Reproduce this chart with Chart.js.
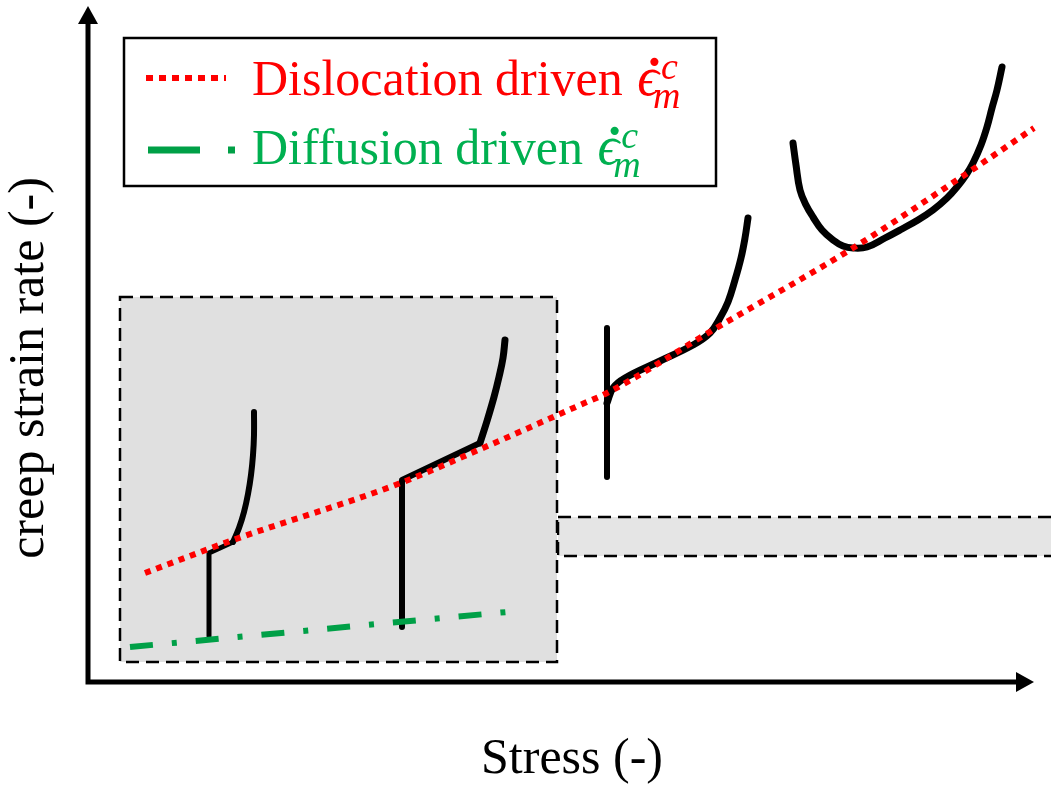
<!DOCTYPE html>
<html>
<head>
<meta charset="utf-8">
<script src="https://cdn.jsdelivr.net/npm/chart.js@4.4.1/dist/chart.umd.min.js"></script>
<style>
  html, body { margin: 0; padding: 0; background: #fff; }
  canvas { display: block; }
</style>
</head>
<body>
<canvas id="creep" width="1051" height="785" style="width:1051px;height:785px"></canvas>
<script>
// schematic values, stress (x) vs creep strain rate (y), arbitrary units
const dislocationLine = [
  [5.7, 10.9], [14.5, 14.2], [31.0, 19.8], [39.5, 23.4], [49.2, 27.7],
  [51.9, 28.9], [62.5, 35.2], [76.5, 43.4], [87.2, 50.4], [94.6, 55.4]
];
const diffusionLine = [[4.2, 3.5], [41.9, 7.0]];

const creepCurve1Stem = [[12.1, 4.6], [12.1, 12.9], [13.2, 13.4], [14.5, 14.0]];
const creepCurve1 = [
  [14.5, 14.0], [15.1, 15.4], [15.6, 17.0], [16.0, 18.8], [16.3, 20.7],
  [16.5, 22.7], [16.6, 24.7], [16.6, 27.0]
];
const creepCurve2Stem = [[31.4, 5.5], [31.4, 20.2], [39.2, 23.9]];
const creepCurve2 = [
  [39.2, 23.9], [39.9, 26.1], [40.6, 28.5], [41.1, 30.5], [41.5, 32.4], [41.7, 34.2]
];
const creepCurve3Stem = [[51.9, 20.5], [51.9, 35.4]];
const creepCurve3 = [
  [51.9, 27.9], [52.5, 29.4], [53.7, 30.4], [57.2, 32.1], [60.5, 33.7], [62.2, 34.9],
  [63.2, 36.4], [64.0, 38.0], [64.7, 40.2], [65.3, 42.4], [65.7, 44.4], [66.0, 46.4]
];
const creepCurve4 = [
  [70.5, 53.9], [70.8, 51.7], [71.2, 49.2], [71.8, 47.7], [72.5, 46.5], [73.4, 45.2],
  [74.5, 44.2], [75.5, 43.6], [76.5, 43.4], [77.9, 43.5], [79.7, 44.4], [81.2, 45.2],
  [83.0, 46.2], [84.5, 47.2], [85.9, 48.4], [86.9, 49.5], [87.8, 50.7], [88.5, 51.9],
  [89.3, 53.7], [89.9, 55.5], [90.4, 57.4], [90.9, 59.2], [91.4, 61.5]
];

// shaded regions: [xFrom, xTo, yFrom, yTo]
const lowStressRegion = [3.2, 46.9, 2.0, 38.5];
const highStressBand = [47.0, 97.0, 12.6, 16.5];

const xTitle = "Stress (-)";
const yTitle = "creep strain rate (-)";
const legendLabels = ["Dislocation driven ", "Diffusion driven "];

const toPts = (arr) => arr.map((p) => ({ x: p[0], y: p[1] }));

const RED = "#ff0000";
const GREEN_LINE = "#00a047";
const GREEN_TEXT = "#00b050";
const SERIF = "'Liberation Serif', 'DejaVu Serif', serif";

function blackCurve(arr, width, tension) {
  return {
    data: toPts(arr),
    showLine: true,
    borderColor: "#000",
    borderWidth: width || 6,
    pointRadius: 0,
    tension: tension || 0,
    borderCapStyle: "round",
    borderJoinStyle: "round",
    order: 2,
  };
}

const sketchPlugin = {
  id: "sketch",
  beforeDatasetsDraw(chart) {
    const { ctx, scales } = chart;
    const x = scales.x, y = scales.y;

    const box = (r, fill) => {
      const l = x.getPixelForValue(r[0]), rr = x.getPixelForValue(r[1]);
      const t = y.getPixelForValue(r[3]), b = y.getPixelForValue(r[2]);
      ctx.save();
      ctx.fillStyle = fill;
      ctx.fillRect(l, t, rr - l, b - t);
      ctx.setLineDash([13, 7]);
      ctx.lineWidth = 2.5;
      ctx.strokeStyle = "#000";
      ctx.strokeRect(l, t, rr - l, b - t);
      ctx.restore();
    };
    box(highStressBand, "#e5e5e5");
    box(lowStressRegion, "#e0e0e0");

    // axes with arrows
    const ox = x.getPixelForValue(0), oy = y.getPixelForValue(0);
    const top = 6, right = 1034;
    ctx.save();
    ctx.strokeStyle = "#000";
    ctx.fillStyle = "#000";
    ctx.lineWidth = 5;
    ctx.beginPath();
    ctx.moveTo(ox, top + 16);
    ctx.lineTo(ox, oy);
    ctx.lineTo(right - 16, oy);
    ctx.stroke();
    ctx.beginPath();
    ctx.moveTo(ox, top);
    ctx.lineTo(ox - 10, top + 18);
    ctx.lineTo(ox + 10, top + 18);
    ctx.closePath();
    ctx.fill();
    ctx.beginPath();
    ctx.moveTo(right, oy);
    ctx.lineTo(right - 18, oy - 10);
    ctx.lineTo(right - 18, oy + 10);
    ctx.closePath();
    ctx.fill();
    ctx.restore();
  },
  afterDraw(chart) {
    const { ctx } = chart;
    ctx.save();
    // axis titles
    ctx.fillStyle = "#000";
    ctx.font = "50px " + SERIF;
    ctx.textAlign = "center";
    ctx.textBaseline = "alphabetic";
    ctx.fillText(xTitle, 572, 773);
    ctx.save();
    ctx.translate(43, 368);
    ctx.rotate(-Math.PI / 2);
    ctx.fillText(yTitle, 0, 0);
    ctx.restore();

    // legend box
    ctx.fillStyle = "#fff";
    ctx.fillRect(124, 38, 592, 148);
    ctx.lineWidth = 2.5;
    ctx.strokeStyle = "#000";
    ctx.strokeRect(124, 38, 592, 148);

    // samples
    ctx.lineWidth = 6;
    ctx.strokeStyle = RED;
    ctx.setLineDash([7, 6]);
    ctx.beginPath();
    ctx.moveTo(146, 78);
    ctx.lineTo(226, 78);
    ctx.stroke();
    ctx.lineWidth = 7;
    ctx.strokeStyle = GREEN_LINE;
    ctx.setLineDash([52, 28, 7, 100]);
    ctx.beginPath();
    ctx.moveTo(148, 150);
    ctx.lineTo(236, 150);
    ctx.stroke();
    ctx.setLineDash([]);

    const entry = (label, base, color) => {
      ctx.fillStyle = color;
      ctx.textAlign = "left";
      ctx.font = "50px " + SERIF;
      ctx.fillText(label, 252, base);
      const x0 = 252 + ctx.measureText(label).width + 2;
      ctx.font = "italic 54px " + SERIF;
      ctx.fillText("\u03f5", x0, base);
      const w = ctx.measureText("\u03f5").width;
      ctx.textAlign = "center";
      ctx.font = "bold italic 54px " + SERIF;
      ctx.fillText("\u02d9", x0 + w * 0.55 + 2, base + 2);
      ctx.textAlign = "left";
      ctx.font = "italic 38px " + SERIF;
      ctx.fillText("c", x0 + w + 2, base - 16);
      ctx.fillText("m", x0 + w - 6, base + 13);
    };
    entry(legendLabels[0], 95, RED);
    entry(legendLabels[1], 164, GREEN_TEXT);
    ctx.restore();
  },
};

new Chart(document.getElementById("creep"), {
  type: "scatter",
  data: {
    datasets: [
      {
        data: toPts(diffusionLine),
        showLine: true,
        borderColor: GREEN_LINE,
        borderWidth: 6,
        borderDash: [23, 19, 5, 19],
        pointRadius: 0,
        order: 0,
      },
      {
        data: toPts(dislocationLine),
        showLine: true,
        borderColor: RED,
        borderWidth: 6,
        borderDash: [6, 6],
        borderCapStyle: "butt",
        pointRadius: 0,
        cubicInterpolationMode: "monotone",
        order: 1,
      },
      blackCurve(creepCurve1Stem, 5),
      blackCurve(creepCurve1, 6, 0.4),
      blackCurve(creepCurve2Stem, 6),
      blackCurve(creepCurve2, 7, 0.4),
      blackCurve(creepCurve3Stem, 6),
      blackCurve(creepCurve3, 7, 0.4),
      blackCurve(creepCurve4, 7, 0.4),
    ],
  },
  options: {
    responsive: false,
    animation: false,
    devicePixelRatio: 1,
    layout: { padding: 0 },
    scales: {
      x: { type: "linear", min: -8.8, max: 96.3, display: false },
      y: { type: "linear", min: -10.3, max: 68.2, display: false },
    },
    plugins: {
      legend: { display: false },
      tooltip: { enabled: false },
    },
  },
  plugins: [sketchPlugin],
});
</script>
</body>
</html>
